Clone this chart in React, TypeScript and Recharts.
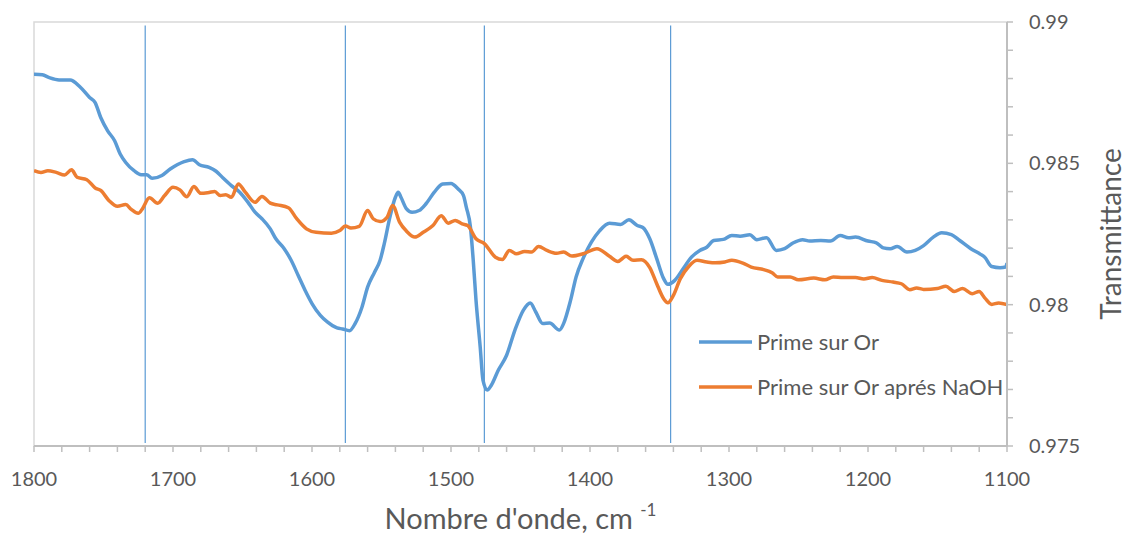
import React from 'react';
import {
  LineChart, Line, XAxis, YAxis, ReferenceLine, ReferenceArea, Legend, Label
} from 'recharts';

// wavenumbers (cm-1) and transmittance
const primeWavenumbers = [
  1800, 1794, 1789, 1782, 1774, 1767, 1760, 1756, 1752, 1747, 1742, 1738, 1734, 1728, 1723, 1719,
  1715, 1708, 1702, 1697, 1692, 1686, 1681, 1674, 1669, 1664, 1658, 1652, 1646, 1641, 1636, 1630,
  1626, 1620, 1615, 1610, 1605, 1600, 1594, 1589, 1582, 1578, 1573, 1569, 1564, 1560, 1555, 1551,
  1548, 1544, 1540, 1538, 1536, 1532, 1528, 1523, 1518, 1512, 1506, 1500, 1495, 1491, 1489, 1486,
  1484, 1482, 1479, 1477, 1474, 1471, 1466, 1460, 1454, 1448, 1443, 1439, 1434, 1429, 1422, 1419,
  1414, 1410, 1405, 1399, 1393, 1386, 1378, 1372, 1366, 1362, 1357, 1352, 1347, 1344, 1339, 1333,
  1327, 1321, 1316, 1311, 1304, 1298, 1292, 1285, 1280, 1273, 1266, 1260, 1254, 1247, 1242, 1234,
  1227, 1220, 1214, 1209, 1200, 1194, 1189, 1184, 1179, 1172, 1166, 1160, 1153, 1147, 1140, 1134,
  1126, 1119, 1116, 1111, 1105, 1101, 1100,
];
const primeValues = [
  0.98815, 0.98813, 0.98803, 0.98795, 0.98795, 0.98771, 0.98733, 0.98715, 0.98662, 0.98615, 0.9858, 0.98533, 0.98503, 0.98474, 0.9846, 0.9846,
  0.98447, 0.98457, 0.9848, 0.98495, 0.98506, 0.98513, 0.98495, 0.98486, 0.98472, 0.98448, 0.98421, 0.98398, 0.98362, 0.98327, 0.98304, 0.98268,
  0.98233, 0.98198, 0.98157, 0.98104, 0.98051, 0.98004, 0.97962, 0.97939, 0.97918, 0.97914, 0.97908, 0.97933, 0.97992, 0.98062, 0.98115, 0.98157,
  0.98216, 0.98309, 0.9838, 0.98398, 0.9838, 0.98339, 0.98327, 0.98333, 0.98357, 0.98398, 0.98427, 0.98429, 0.9841, 0.98386, 0.98345, 0.98274,
  0.98157, 0.98015, 0.97851, 0.97733, 0.97698, 0.97715, 0.97768, 0.97821, 0.9791, 0.9798, 0.98006, 0.97974, 0.97933, 0.97935, 0.9791, 0.97933,
  0.98015, 0.98098, 0.98163, 0.98221, 0.98262, 0.98288, 0.98284, 0.983, 0.9828, 0.98273, 0.98233, 0.98163, 0.98092, 0.98072, 0.98086, 0.98127,
  0.98168, 0.98192, 0.98203, 0.98227, 0.98231, 0.98245, 0.98242, 0.98247, 0.9823, 0.98237, 0.98192, 0.98198, 0.98218, 0.9823, 0.98225, 0.98227,
  0.98225, 0.98245, 0.98237, 0.98239, 0.98225, 0.98219, 0.98201, 0.98198, 0.98206, 0.98186, 0.98192, 0.98209, 0.98239, 0.98254, 0.98248, 0.98227,
  0.98198, 0.98178, 0.98168, 0.98135, 0.98131, 0.98133, 0.98147,
];

const naohWavenumbers = [
  1800, 1795, 1790, 1784, 1778, 1773, 1769, 1762, 1756, 1752, 1746, 1740, 1734, 1730, 1725, 1722,
  1717, 1711, 1706, 1700, 1695, 1690, 1685, 1680, 1674, 1670, 1666, 1662, 1658, 1653, 1648, 1641,
  1636, 1630, 1625, 1617, 1611, 1604, 1597, 1586, 1580, 1576, 1572, 1566, 1560, 1556, 1551, 1546,
  1542, 1537, 1532, 1526, 1520, 1513, 1507, 1502, 1497, 1492, 1488, 1482, 1476, 1468, 1463, 1458,
  1453, 1447, 1442, 1437, 1431, 1424, 1419, 1413, 1405, 1395, 1386, 1380, 1374, 1369, 1363, 1357,
  1352, 1347, 1344, 1340, 1335, 1329, 1323, 1316, 1310, 1303, 1298, 1290, 1284, 1275, 1269, 1265,
  1256, 1250, 1239, 1231, 1225, 1218, 1209, 1203, 1197, 1190, 1182, 1176, 1170, 1165, 1160, 1150,
  1144, 1138, 1132, 1125, 1120, 1116, 1111, 1106, 1100,
];
const naohValues = [
  0.98474, 0.98468, 0.98474, 0.98468, 0.98459, 0.98477, 0.98451, 0.98442, 0.98413, 0.98404, 0.98368, 0.98348, 0.98354, 0.98337, 0.98323, 0.98339,
  0.98378, 0.98359, 0.98386, 0.98415, 0.98406, 0.98382, 0.98418, 0.98394, 0.98397, 0.984, 0.98386, 0.98389, 0.9838, 0.98427, 0.98398, 0.98362,
  0.98383, 0.98359, 0.98353, 0.98343, 0.98304, 0.98268, 0.98256, 0.98253, 0.98262, 0.98278, 0.98271, 0.98277, 0.98333, 0.98304, 0.98294, 0.98309,
  0.98351, 0.98292, 0.9826, 0.98239, 0.98256, 0.9828, 0.98315, 0.98288, 0.98298, 0.98286, 0.9828, 0.98233, 0.98216, 0.98168, 0.9816, 0.98192,
  0.9818, 0.98188, 0.98186, 0.98206, 0.98192, 0.98182, 0.98186, 0.98172, 0.9818, 0.98198, 0.98171, 0.98153, 0.98171, 0.98157, 0.98159, 0.98131,
  0.98074, 0.98021, 0.98007, 0.98033, 0.98092, 0.98135, 0.98157, 0.98151, 0.98148, 0.98151, 0.98157, 0.98147, 0.98133, 0.98124, 0.98113, 0.98098,
  0.98098, 0.98088, 0.98094, 0.98088, 0.98098, 0.98096, 0.98096, 0.98091, 0.98096, 0.98086, 0.9808, 0.98074, 0.98053, 0.98059, 0.98054, 0.98057,
  0.98065, 0.98047, 0.98057, 0.98039, 0.98047, 0.98024, 0.98001, 0.98006, 0.98,
];

const seriesNames = ['Prime sur Or', 'Prime sur Or aprés NaOH'];
const markerWavenumbers = [1720, 1576, 1476, 1342];
const xTicks = [1100, 1120, 1140, 1160, 1180, 1200, 1220, 1240, 1260, 1280, 1300, 1320, 1340, 1360, 1380,
  1400, 1420, 1440, 1460, 1480, 1500, 1520, 1540, 1560, 1580, 1600, 1620, 1640, 1660, 1680, 1700,
  1720, 1740, 1760, 1780, 1800];
const yTicks = [0.975, 0.976, 0.977, 0.978, 0.979, 0.98, 0.981, 0.982, 0.983, 0.984, 0.985, 0.986, 0.987, 0.988, 0.989, 0.99];
const yLabels = ['0.975', '0.98', '0.985', '0.99'];

const primeData = primeWavenumbers.map((w, i) => ({ w, t: primeValues[i] }));
const naohData = naohWavenumbers.map((w, i) => ({ w, t: naohValues[i] }));

const FONT = 'Lato, "Open Sans", sans-serif';
const TEXT = '#595959';
const AXIS = '#bfbfbf';
const BLUE = '#5b9bd5';
const ORANGE = '#ed7d31';

const XTick = (props: any) => {
  const { x, y, payload } = props;
  if (payload.value % 100 !== 0) return null;
  return (
    <text x={x} y={y + 32} textAnchor="middle" fill={TEXT} fontSize={20} fontFamily={FONT}>
      {payload.value}
    </text>
  );
};

const YTick = (props: any) => {
  const { x, y, payload } = props;
  const label = yLabels.find((l) => Math.abs(parseFloat(l) - payload.value) < 1e-6);
  if (!label) return null;
  return (
    <text x={x} y={y} dy={7} textAnchor="start" fill={TEXT} fontSize={20} fontFamily={FONT}>
      {label}
    </text>
  );
};

const LegendBox = (props: any) => {
  const items = props.payload || [];
  return (
    <svg width={330} height={80}>
      {items.map((it: any, i: number) => (
        <g key={it.value}>
          <line x1={0} x2={53} y1={17 + i * 45} y2={17 + i * 45} stroke={it.color} strokeWidth={3.5} />
          <text x={58} y={17 + i * 45} dy={8} fill={TEXT} fontSize={22} fontFamily={FONT}>{it.value}</text>
        </g>
      ))}
    </svg>
  );
};

export default function App() {
  return (
    <div style={{ position: 'absolute', left: 0, top: 0, width: 1129, height: 535, background: '#fff' }}>
      <LineChart width={1129} height={535} margin={{ top: 22, right: 0, left: 34, bottom: 0 }}>
        <ReferenceArea x1={1800} x2={1100} y1={0.975} y2={0.99} fill="none" stroke="#d9d9d9" strokeWidth={1.5} ifOverflow="visible" />
        <XAxis
          type="number"
          dataKey="w"
          domain={[1100, 1800]}
          reversed
          ticks={xTicks}
          interval={0}
          height={89}
          tickSize={6}
          tickLine={{ stroke: AXIS, strokeWidth: 1.5 }}
          axisLine={{ stroke: AXIS, strokeWidth: 2 }}
          tick={<XTick />}
          allowDataOverflow
        >
          <Label
            content={(p: any) => {
              const vb = p.viewBox;
              const cx = vb.x + vb.width / 2;
              return (
                <text x={cx} y={529} textAnchor="middle" fill={TEXT} fontSize={29} fontFamily={FONT}>
                  Nombre d'onde, cm <tspan fontSize={17} dy={-13}>-1</tspan>
                </text>
              );
            }}
          />
        </XAxis>
        <YAxis
          orientation="right"
          type="number"
          domain={[0.975, 0.99]}
          ticks={yTicks}
          interval={0}
          width={122}
          tickSize={6}
          tickMargin={16}
          tickLine={{ stroke: AXIS, strokeWidth: 1.5 }}
          axisLine={{ stroke: AXIS, strokeWidth: 2 }}
          tick={<YTick />}
          allowDataOverflow
        >
          <Label
            content={(p: any) => {
              const vb = p.viewBox;
              const cy = vb.y + vb.height / 2;
              return (
                <text x={1121} y={cy} transform={`rotate(-90 1121 ${cy})`} textAnchor="middle" fill={TEXT} fontSize={28} fontFamily={FONT}>
                  Transmittance
                </text>
              );
            }}
          />
        </YAxis>
        {markerWavenumbers.map((w) => (
          <ReferenceLine
            key={w}
            segment={[{ x: w, y: 0.97511 }, { x: w, y: 0.98988 }]}
            stroke={BLUE}
            strokeWidth={1.2}
          />
        ))}
        <Line
          data={primeData}
          dataKey="t"
          name={seriesNames[0]}
          type="monotone"
          stroke={BLUE}
          strokeWidth={3.5}
          dot={false}
          isAnimationActive={false}
        />
        <Line
          data={naohData}
          dataKey="t"
          name={seriesNames[1]}
          type="monotone"
          stroke={ORANGE}
          strokeWidth={3.5}
          dot={false}
          isAnimationActive={false}
        />
        <Legend
          layout="vertical"
          verticalAlign="middle"
          align="center"
          content={<LegendBox />}
          wrapperStyle={{ left: 699, top: 325, width: 330, height: 80 }}
        />
      </LineChart>
    </div>
  );
}
